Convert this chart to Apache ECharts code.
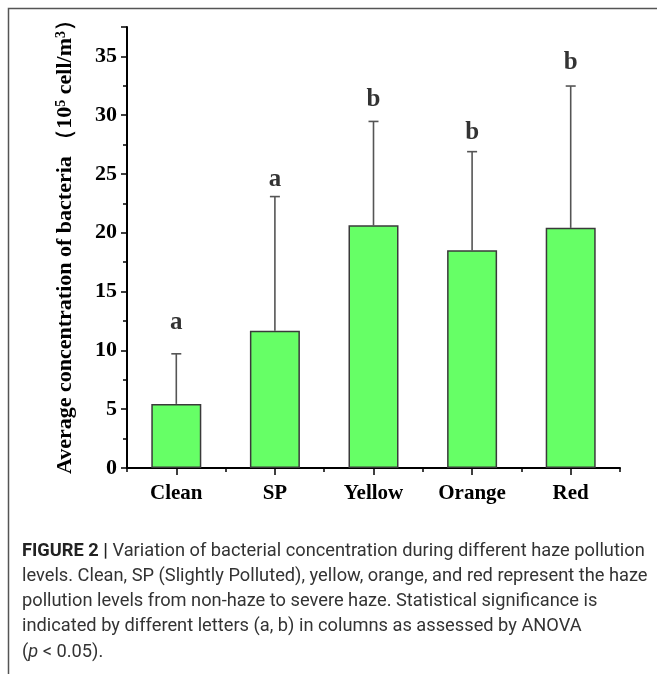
<!DOCTYPE html>
<html>
<head>
<meta charset="utf-8">
<script src="https://cdn.jsdelivr.net/npm/echarts@6/dist/echarts.min.js"></script>
<style>
  html, body { margin: 0; padding: 0; background: #fff; }
  #chart { width: 657px; height: 674px; }
</style>
</head>
<body>
<div id="chart"></div>
<script>
// Haze pollution level categories
const categories = ['Clean', 'SP', 'Yellow', 'Orange', 'Red'];
// Mean bacterial concentration (10^5 cell/m^3)
const means = [5.45, 11.67, 20.64, 18.51, 20.42];
// Upper error bar length (standard deviation)
const errors = [4.26, 11.41, 8.83, 8.39, 12.06];
// Significance letters and the height they sit at
const letters = ['a', 'a', 'b', 'b', 'b'];
const letterHeights = [12.35, 24.5, 31.3, 28.5, 34.5];
// Y axis tick values
const yTicks = [0, 5, 10, 15, 20, 25, 30, 35];

const captionLines = [
  '{b|FIGURE 2 |} Variation of bacterial concentration during different haze pollution',
  'levels. Clean, SP (Slightly Polluted), yellow, orange, and red represent the haze',
  'pollution levels from non-haze to severe haze. Statistical significance is',
  'indicated by different letters (a, b) in columns as assessed by ANOVA',
  '({i|p} < 0.05).'
];

const serif = "'Liberation Serif', 'Times New Roman', serif";
const sans = "Roboto, 'Liberation Sans', sans-serif";

// Size the caption font so the first line spans the text column
function captionFontSize() {
  const ctx = document.createElement('canvas').getContext('2d');
  ctx.font = 'bold 100px ' + sans;
  let w = ctx.measureText('FIGURE 2 |').width;
  ctx.font = '100px ' + sans;
  w += ctx.measureText(' Variation of bacterial concentration during different haze pollution').width;
  const size = 623 / w * 100;
  return (size > 14 && size < 22) ? size : 18;
}
const capSize = captionFontSize();

const chart = echarts.init(document.getElementById('chart'), null, { renderer: 'canvas' });

const captionGraphics = captionLines.map((line, i) => ({
  type: 'text',
  left: 22,
  top: 542 + i * 25.3,
  style: {
    text: line,
    font: capSize + 'px ' + sans,
    fill: '#333',
    rich: {
      b: { fontWeight: 'bold', fontSize: capSize, fontFamily: sans, fill: '#222' },
      i: { fontStyle: 'italic', fontSize: capSize, fontFamily: sans, fill: '#333' }
    }
  }
}));

chart.setOption({
  animation: false,
  grid: { left: 127, right: 37, top: 27, bottom: 206, containLabel: false },
  graphic: [
    {
      type: 'rect',
      shape: { x: 8.5, y: 8.5, width: 720, height: 720 },
      style: { fill: 'none', stroke: '#555', lineWidth: 1.5 },
      silent: true
    }
  ].concat(captionGraphics),
  xAxis: [
    {
      type: 'category',
      data: categories,
      boundaryGap: true,
      axisLine: { lineStyle: { color: '#000', width: 2 } },
      axisTick: { show: true, alignWithLabel: true, length: 7, lineStyle: { color: '#000', width: 1.5 } },
      axisLabel: {
        margin: 15,
        color: '#000',
        fontFamily: serif,
        fontWeight: 'bold',
        fontSize: 21
      }
    },
    {
      type: 'category',
      data: categories,
      boundaryGap: true,
      position: 'bottom',
      axisLine: { show: false },
      axisTick: { show: true, length: 4, lineStyle: { color: '#000', width: 1.5 } },
      axisLabel: { show: false }
    }
  ],
  yAxis: {
    type: 'value',
    min: 0,
    max: 37.5,
    interval: 5,
    name: 'Average concentration of bacteria \uFF08{n|10}{s|5}{n| cell/m}{s|3}\uFF09',
    nameLocation: 'middle',
    nameGap: 50,
    nameTextStyle: {
      color: '#000',
      fontFamily: serif,
      fontWeight: 'bold',
      fontSize: 22,
      padding: [0, 0, 0, 12],
      rich: {
        n: { fontFamily: serif, fontWeight: 'bold', fontSize: 22, color: '#000' },
        s: { fontFamily: serif, fontWeight: 'bold', fontSize: 14, color: '#000', verticalAlign: 'top', padding: [0, 0, 9, 0] }
      }
    },
    axisLine: { show: true, lineStyle: { color: '#000', width: 2 } },
    axisTick: { show: true, length: 6, lineStyle: { color: '#000', width: 1.5 } },
    minorTick: { show: true, splitNumber: 2, length: 4, lineStyle: { color: '#000', width: 1.5 } },
    splitLine: { show: false },
    axisLabel: {
      margin: 10,
      color: '#000',
      fontFamily: serif,
      fontWeight: 'bold',
      fontSize: 22,
      showMaxLabel: false,
      formatter: v => (yTicks.indexOf(v) >= 0 ? String(v) : '')
    }
  },
  series: [
    {
      type: 'bar',
      data: means,
      barWidth: 50,
      itemStyle: { color: '#66FF66', borderColor: '#3a3a3a', borderWidth: 1.5 },
      z: 3
    },
    {
      type: 'custom',
      data: means.map((m, i) => [i, m, m + errors[i]]),
      encode: { x: 0, y: [1, 2] },
      z: 2,
      renderItem: function (params, api) {
        const lo = api.coord([api.value(0), api.value(1)]);
        const hi = api.coord([api.value(0), api.value(2)]);
        const half = 5;
        const style = { stroke: '#555', lineWidth: 1.6 };
        return {
          type: 'group',
          children: [
            { type: 'line', shape: { x1: lo[0], y1: lo[1], x2: hi[0], y2: hi[1] }, style: style },
            { type: 'line', shape: { x1: hi[0] - half, y1: hi[1], x2: hi[0] + half, y2: hi[1] }, style: style }
          ]
        };
      }
    },
    {
      type: 'scatter',
      data: letterHeights.map((h, i) => [i, h]),
      symbolSize: 0,
      label: {
        show: true,
        position: 'inside',
        formatter: p => letters[p.dataIndex],
        color: '#000',
        fontFamily: serif,
        fontWeight: 'bold',
        fontSize: 25
      },
      z: 4
    }
  ]
});
</script>
</body>
</html>
